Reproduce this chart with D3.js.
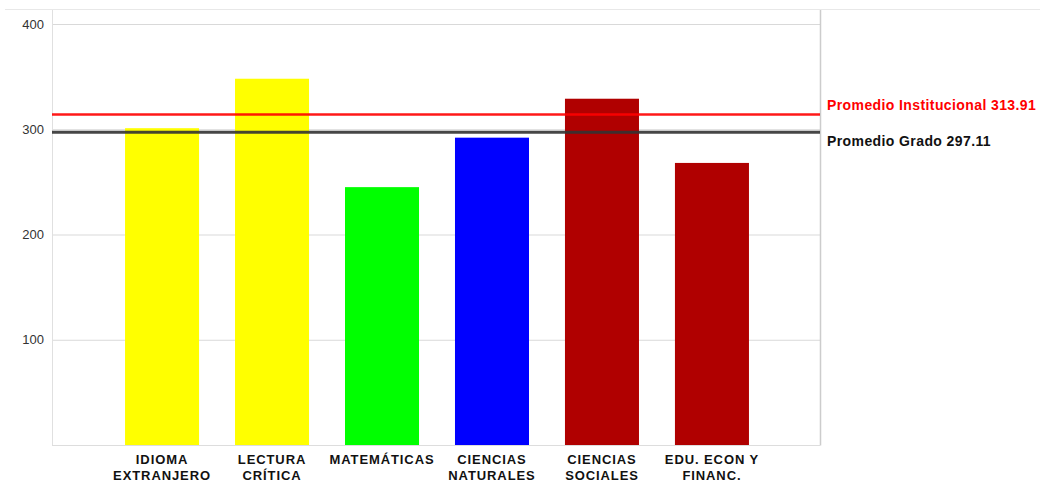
<!DOCTYPE html>
<html>
<head>
    <meta charset="utf-8">
    <style>
        body { margin: 0; background: #fff; }
        text { font-family: "Liberation Sans", Arial, sans-serif; }
    </style>
</head>
<body>
    <script src="https://cdn.jsdelivr.net/npm/d3@7"></script>
    <script>
        // categories (two label lines each) and scores
        var categories = ["IDIOMA EXTRANJERO", "LECTURA CRÍTICA", "MATEMÁTICAS", "CIENCIAS NATURALES", "CIENCIAS SOCIALES", "EDU. ECON Y FINANC."];
        var labelLines = [["IDIOMA", "EXTRANJERO"], ["LECTURA", "CRÍTICA"], ["MATEMÁTICAS"], ["CIENCIAS", "NATURALES"], ["CIENCIAS", "SOCIALES"], ["EDU. ECON Y", "FINANC."]];
        var scores = [301, 348, 245, 292, 329, 268];
        var barColors = ["#ffff00", "#ffff00", "#00ff00", "#0000ff", "#b00000", "#b00000"];
        var yTicks = [100, 200, 300, 400];
        var refNames = ["Promedio Institucional", "Promedio Grado"];
        var refValues = [313.91, 297.11];
        var refColors = ["#ff0000", "#333333"];

        var width = 1040, height = 484;
        var plot = { left: 52, right: 820, top: 10, bottom: 445 };

        var svg = d3.select("body").append("svg")
            .attr("width", width)
            .attr("height", height);

        var xScale = d3.scaleBand()
            .domain(categories)
            .range([plot.left + 1, plot.right + 1])
            .paddingInner(0.327)
            .paddingOuter(0.655);

        var yScale = d3.scaleLinear()
            .domain([0, 400])
            .range([plot.bottom, 24]);

        // top frame line
        svg.append("line")
            .attr("x1", 5).attr("x2", width)
            .attr("y1", 9.5).attr("y2", 9.5)
            .attr("stroke", "#e8e8e8").attr("stroke-width", 1);

        // grid lines + left tick labels
        var yAxis = d3.axisLeft(yScale)
            .tickValues(yTicks)
            .tickSize(-(plot.right - plot.left))
            .tickPadding(8);
        var yAxisNodes = svg.append("g")
            .attr("transform", "translate(" + plot.left + ",0)")
            .call(yAxis);
        yAxisNodes.select(".domain").remove();
        yAxisNodes.selectAll(".tick line")
            .attr("stroke", "#d9d9d9").attr("stroke-width", 1);
        yAxisNodes.selectAll(".tick text")
            .attr("fill", "#333")
            .attr("font-size", 13)
            .attr("font-family", "'Liberation Sans', Arial, sans-serif");

        // frame of plot area
        svg.append("line")
            .attr("x1", plot.left + 0.5).attr("x2", plot.left + 0.5)
            .attr("y1", plot.top).attr("y2", plot.bottom)
            .attr("stroke", "#e0e0e0");
        svg.append("line")
            .attr("x1", plot.right + 0.5).attr("x2", plot.right + 0.5)
            .attr("y1", plot.top).attr("y2", plot.bottom + 0.5)
            .attr("stroke", "#cccccc").attr("stroke-width", 1.5);
        svg.append("line")
            .attr("x1", plot.left).attr("x2", plot.right)
            .attr("y1", plot.bottom + 0.5).attr("y2", plot.bottom + 0.5)
            .attr("stroke", "#dddddd");

        // bars
        svg.append("g")
            .selectAll("rect")
            .data(scores)
            .enter()
            .append("rect")
            .attr("x", function (d, i) { return xScale(categories[i]); })
            .attr("y", function (d) { return yScale(d); })
            .attr("width", xScale.bandwidth())
            .attr("height", function (d) { return yScale(0) - yScale(d); })
            .attr("fill", function (d, i) { return barColors[i]; });

        // reference lines
        svg.append("g")
            .selectAll("line")
            .data(refValues)
            .enter()
            .append("line")
            .attr("x1", plot.left).attr("x2", plot.right)
            .attr("y1", function (d) { return yScale(d); })
            .attr("y2", function (d) { return yScale(d); })
            .attr("stroke", function (d, i) { return refColors[i]; })
            .attr("stroke-width", function (d, i) { return i === 0 ? 2.5 : 3; })
            .attr("opacity", 0.9);

        // reference labels at right
        svg.append("g")
            .selectAll("text")
            .data(refValues)
            .enter()
            .append("text")
            .attr("x", plot.right + 7)
            .attr("y", function (d, i) { return yScale(d) + (i === 0 ? -5 : 14); })
            .attr("fill", function (d, i) { return refColors[i] === "#333333" ? "#111" : refColors[i]; })
            .attr("font-size", 14)
            .attr("font-weight", "bold")
            .attr("letter-spacing", 0.4)
            .text(function (d, i) { return refNames[i] + " " + d; });

        // category labels
        var labels = svg.append("g")
            .selectAll("text")
            .data(categories)
            .enter()
            .append("text")
            .attr("x", function (d) { return xScale(d) + xScale.bandwidth() / 2; })
            .attr("y", 464)
            .attr("text-anchor", "middle")
            .attr("font-size", 13)
            .attr("font-weight", "bold")
            .attr("letter-spacing", 0.9)
            .attr("fill", "#111");
        labels.each(function (d, i) {
            var t = d3.select(this);
            labelLines[i].forEach(function (line, j) {
                t.append("tspan")
                    .attr("x", xScale(d) + xScale.bandwidth() / 2)
                    .attr("dy", j === 0 ? 0 : 16)
                    .text(line);
            });
        });
    </script>
</body>
</html>
